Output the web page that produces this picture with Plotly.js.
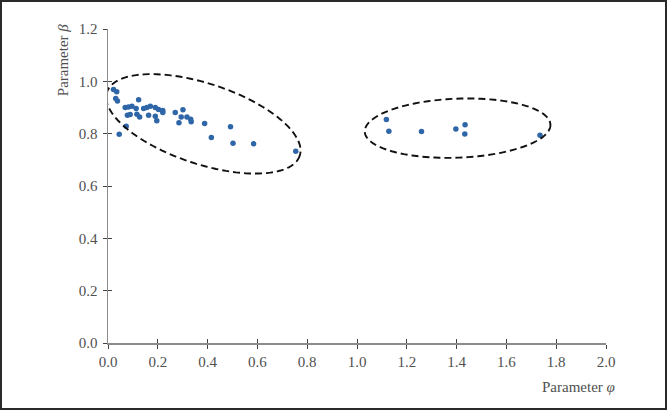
<!DOCTYPE html>
<html>
<head>
<meta charset="utf-8">
<script src="https://cdn.plot.ly/plotly-3.0.1.min.js"></script>
<style>
html,body{margin:0;padding:0;background:#fff;}
#wrap{position:relative;width:668px;height:411px;}
#chart{position:absolute;left:0;top:0;width:668px;height:411px;}
#frame{position:absolute;left:0;top:0;width:667px;height:410px;box-sizing:border-box;border:2px solid #2a2a2a;pointer-events:none;}
</style>
</head>
<body>
<div id="wrap"><div id="chart"></div><div id="frame"></div></div>
<script>
// Data
const phi = [0.022,0.035,0.031,0.038,0.045,0.069,0.082,0.096,0.113,0.123,0.143,0.156,0.170,0.190,0.203,0.220,0.220,
  0.078,0.089,0.116,0.127,0.163,0.190,0.196,0.073,0.270,0.301,0.294,0.317,0.332,0.334,0.285,0.388,0.492,0.415,0.502,0.585,0.754,
  1.118,1.128,1.259,1.397,1.434,1.433,1.735];
const beta = [0.969,0.960,0.934,0.925,0.798,0.900,0.902,0.905,0.896,0.930,0.896,0.900,0.905,0.900,0.892,0.889,0.881,
  0.870,0.873,0.874,0.864,0.870,0.867,0.849,0.828,0.881,0.891,0.864,0.864,0.855,0.846,0.842,0.839,0.826,0.785,0.763,0.761,0.733,
  0.854,0.809,0.808,0.818,0.834,0.799,0.794];
const xTicks = [0,0.2,0.4,0.6,0.8,1.0,1.2,1.4,1.6,1.8,2.0];
const yTicks = [0,0.2,0.4,0.6,0.8,1.0,1.2];

// Cluster outlines: centre in data units, semi-axes in screen px, tilt in degrees (screen)
const ellipseCx = [0.383, 1.404];
const ellipseCy = [0.8375, 0.821];
const ellipseA = [101.5, 92.9];
const ellipseB = [40.2, 29.5];
const ellipseAngle = [18.3, -2.2];

const W = 668, H = 411;
const M = {l:108, r:62, t:29, b:68};
const sx = (W - M.l - M.r) / 2.0;
const sy = (H - M.t - M.b) / 1.2;

const shapes = ellipseCx.map((cx, i) => {
  const th = ellipseAngle[i] * Math.PI / 180;
  const a = ellipseA[i], b = ellipseB[i];
  let p = '';
  for (let k = 0; k <= 120; k++) {
    const t = 2 * Math.PI * k / 120;
    const dx = a * Math.cos(t) * Math.cos(th) - b * Math.sin(t) * Math.sin(th);
    const dy = a * Math.cos(t) * Math.sin(th) + b * Math.sin(t) * Math.cos(th);
    const x = cx + dx / sx, y = ellipseCy[i] - dy / sy;
    p += (k === 0 ? 'M' : 'L') + x.toFixed(5) + ',' + y.toFixed(5);
  }
  p += 'Z';
  return {type:'path', xref:'x', yref:'y', path:p, line:{color:'#111', width:1.9, dash:'7px,4px'}, layer:'above'};
});

const font = {family:'"Liberation Serif", "DejaVu Serif", serif', size:15, color:'#505050'};

const traces = [
  {x:phi, y:beta, type:'scatter', mode:'markers', marker:{color:'#2f66a8', size:5.5}, hoverinfo:'skip', showlegend:false},
  {x:[], y:[], xaxis:'x2', yaxis:'y2', type:'scatter', mode:'markers', showlegend:false}
];

const axisCommon = {showgrid:false, zeroline:false, tickformat:'.1f', tickfont:font, ticks:'outside', ticklen:4, tickwidth:1, tickcolor:'#444', showline:true, linecolor:'#8c8c8c', linewidth:1.5};

const layout = {
  width:W, height:H, margin:M,
  paper_bgcolor:'#fff', plot_bgcolor:'#fff',
  font:font,
  xaxis:Object.assign({}, axisCommon, {range:[0,2], tickvals:xTicks, ticklabelstandoff:0}),
  yaxis:Object.assign({}, axisCommon, {range:[0,1.2], tickvals:yTicks, ticklabelstandoff:2}),
  xaxis2:{overlaying:'x', matches:'x', anchor:'y2', range:[0,2], tickvals:xTicks, ticks:'inside', ticklen:4, tickwidth:1, tickcolor:'#444', showticklabels:false, showgrid:false, zeroline:false, showline:false},
  yaxis2:{overlaying:'y', matches:'y', anchor:'x2', range:[0,1.2], tickvals:yTicks, ticks:'inside', ticklen:4, tickwidth:1, tickcolor:'#444', showticklabels:false, showgrid:false, zeroline:false, showline:false},
  shapes:shapes,
  annotations:[
    {text:'Parameter <i>φ</i>', xref:'paper', yref:'paper', x:1.022, y:-0.14, xanchor:'right', yanchor:'middle', showarrow:false, font:font},
    {text:'Parameter <i>β</i>', xref:'paper', yref:'paper', x:-0.0915, y:0.902, xanchor:'center', yanchor:'middle', textangle:-90, showarrow:false, font:font}
  ]
};

Plotly.newPlot('chart', traces, layout, {displayModeBar:false, staticPlot:true});
</script>
</body>
</html>
